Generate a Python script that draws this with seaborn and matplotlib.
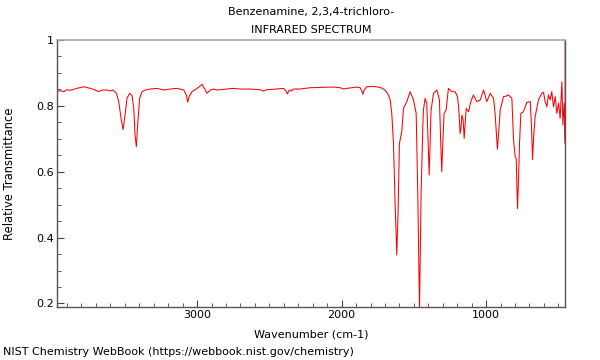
import seaborn as sns
import matplotlib.pyplot as plt
from matplotlib.ticker import MultipleLocator
import pandas as pd

# wavenumber (cm-1) and relative transmittance
wavenumber = [
    3969, 3946, 3923, 3900, 3877, 3854, 3831, 3784, 3738, 3704, 3681, 3658,
    3623, 3600, 3581, 3558, 3542, 3526, 3512, 3498, 3485, 3466, 3450, 3438,
    3429, 3420, 3411, 3397, 3381, 3358, 3323, 3277, 3231, 3185, 3138, 3092,
    3074, 3065, 3055, 3035, 3000, 2965, 2949, 2931, 2908, 2885, 2862,
    2795, 2749, 2702, 2633, 2564, 2541, 2518, 2449, 2402, 2384, 2375, 2366,
    2356, 2345, 2333, 2287, 2218, 2149, 2056, 2010, 1987, 1964, 1895, 1872,
    1863, 1853, 1844, 1826, 1780, 1733, 1699, 1676, 1664,
    1653, 1641, 1630, 1618, 1609, 1600, 1584, 1572, 1549, 1526, 1503, 1484,
    1473, 1461, 1450, 1438, 1434, 1422, 1411, 1401, 1394, 1388, 1381, 1364,
    1341, 1323, 1314, 1307, 1300, 1291, 1277, 1261, 1238, 1215, 1198, 1189,
    1180, 1173, 1168, 1159, 1152, 1145, 1138, 1122, 1106, 1088, 1065, 1041,
    1018, 995, 972, 949, 938, 928, 922, 912, 903, 880, 857, 845, 834, 822,
    811, 799, 792, 783, 774, 769, 760, 742, 719, 695, 686, 679, 670, 661,
    638, 615, 603, 592, 580, 569, 557, 546, 534, 522, 511, 499, 488, 476,
    469, 460, 453, 453,
]
transmittance = [
    0.843, 0.846, 0.843, 0.849, 0.847, 0.850, 0.853, 0.858, 0.853, 0.848, 0.843, 0.848,
    0.848, 0.845, 0.848, 0.838, 0.813, 0.762, 0.728, 0.772, 0.823, 0.838, 0.831, 0.792,
    0.711, 0.676, 0.742, 0.823, 0.843, 0.848, 0.851, 0.853, 0.848, 0.851, 0.853, 0.848,
    0.833, 0.811, 0.828, 0.843, 0.853, 0.865, 0.853, 0.838, 0.848, 0.851, 0.848,
    0.851, 0.853, 0.851, 0.851, 0.849, 0.845, 0.849, 0.851, 0.853, 0.845, 0.836, 0.845,
    0.848, 0.845, 0.851, 0.851, 0.855, 0.856, 0.857, 0.855, 0.851, 0.853, 0.857, 0.855,
    0.848, 0.835, 0.848, 0.858, 0.859, 0.856, 0.848, 0.833, 0.818,
    0.777, 0.686, 0.504, 0.347, 0.483, 0.686, 0.721, 0.792, 0.813, 0.843, 0.818, 0.777,
    0.534, 0.180, 0.534, 0.737, 0.787, 0.823, 0.808, 0.686, 0.590, 0.686, 0.787, 0.838,
    0.848, 0.818, 0.686, 0.600, 0.686, 0.777, 0.787, 0.853, 0.843, 0.843, 0.828, 0.787,
    0.716, 0.737, 0.772, 0.757, 0.701, 0.747, 0.792, 0.782, 0.813, 0.833, 0.813, 0.818,
    0.848, 0.813, 0.838, 0.823, 0.777, 0.706, 0.668, 0.727, 0.787, 0.828, 0.830, 0.833, 0.828, 0.823,
    0.701, 0.645, 0.640, 0.488, 0.605, 0.686, 0.777, 0.782, 0.810, 0.813, 0.737, 0.637, 0.716, 0.767,
    0.818, 0.838, 0.841, 0.813, 0.797, 0.833, 0.818, 0.843, 0.797, 0.828, 0.777, 0.808, 0.762, 0.873,
    0.742, 0.808, 0.686, 1.05,
]

spec = pd.DataFrame({"wn": wavenumber, "T": transmittance})

sns.set_theme(style="ticks")
plt.rcParams["font.family"] = ["DejaVu Sans"]
plt.rcParams["text.color"] = "black"
plt.rcParams["axes.labelcolor"] = "black"
plt.rcParams["xtick.labelcolor"] = "black"
plt.rcParams["ytick.labelcolor"] = "black"

fig = plt.figure(figsize=(6, 3.6), dpi=100)
ax = fig.add_axes([0.095, 0.147, 0.847, 0.742])

sns.lineplot(data=spec, x="wn", y="T", ax=ax, color="#ff0000", lw=0.75,
             sort=False, estimator=None)

ax.set_xlim(spec["wn"].max(), spec["wn"].min())
ax.set_ylim(0.189, 1.0)

ax.xaxis.set_major_locator(MultipleLocator(1000))
ax.xaxis.set_minor_locator(MultipleLocator(100))
ax.yaxis.set_major_locator(MultipleLocator(0.2))
ax.yaxis.set_minor_locator(MultipleLocator(0.05))
ax.set_yticks([0.2, 0.4, 0.6, 0.8, 1.0])
ax.set_yticklabels(["0.2", "0.4", "0.6", "0.8", "1"])

ax.tick_params(which="both", direction="in", top=False, right=False,
               labelsize=8, color="#444444", labelcolor="black", pad=2)
ax.tick_params(which="major", length=5, width=0.8)
ax.tick_params(which="minor", length=3, width=0.6)

for side in ["left", "bottom", "right"]:
    ax.spines[side].set_color("#555555")
    ax.spines[side].set_linewidth(1)
ax.spines["top"].set_color("#aaaaaa")
ax.spines["top"].set_linewidth(1.2)

ax.set_xlabel("Wavenumber (cm-1)", fontsize=8)
ax.set_ylabel("Relative Transmittance", fontsize=8.3)
ax.xaxis.set_label_coords(0.5, -0.085)
ax.yaxis.set_label_coords(-0.081, 0.5)

fig.text(0.518, 0.967, "Benzenamine, 2,3,4-trichloro-", ha="center", va="center", fontsize=8)
fig.text(0.518, 0.917, "INFRARED SPECTRUM", ha="center", va="center", fontsize=8)
fig.text(0.005, 0.022, "NIST Chemistry WebBook (https://webbook.nist.gov/chemistry)",
         ha="left", va="center", fontsize=8)

fig.savefig("out.png", dpi=100)
